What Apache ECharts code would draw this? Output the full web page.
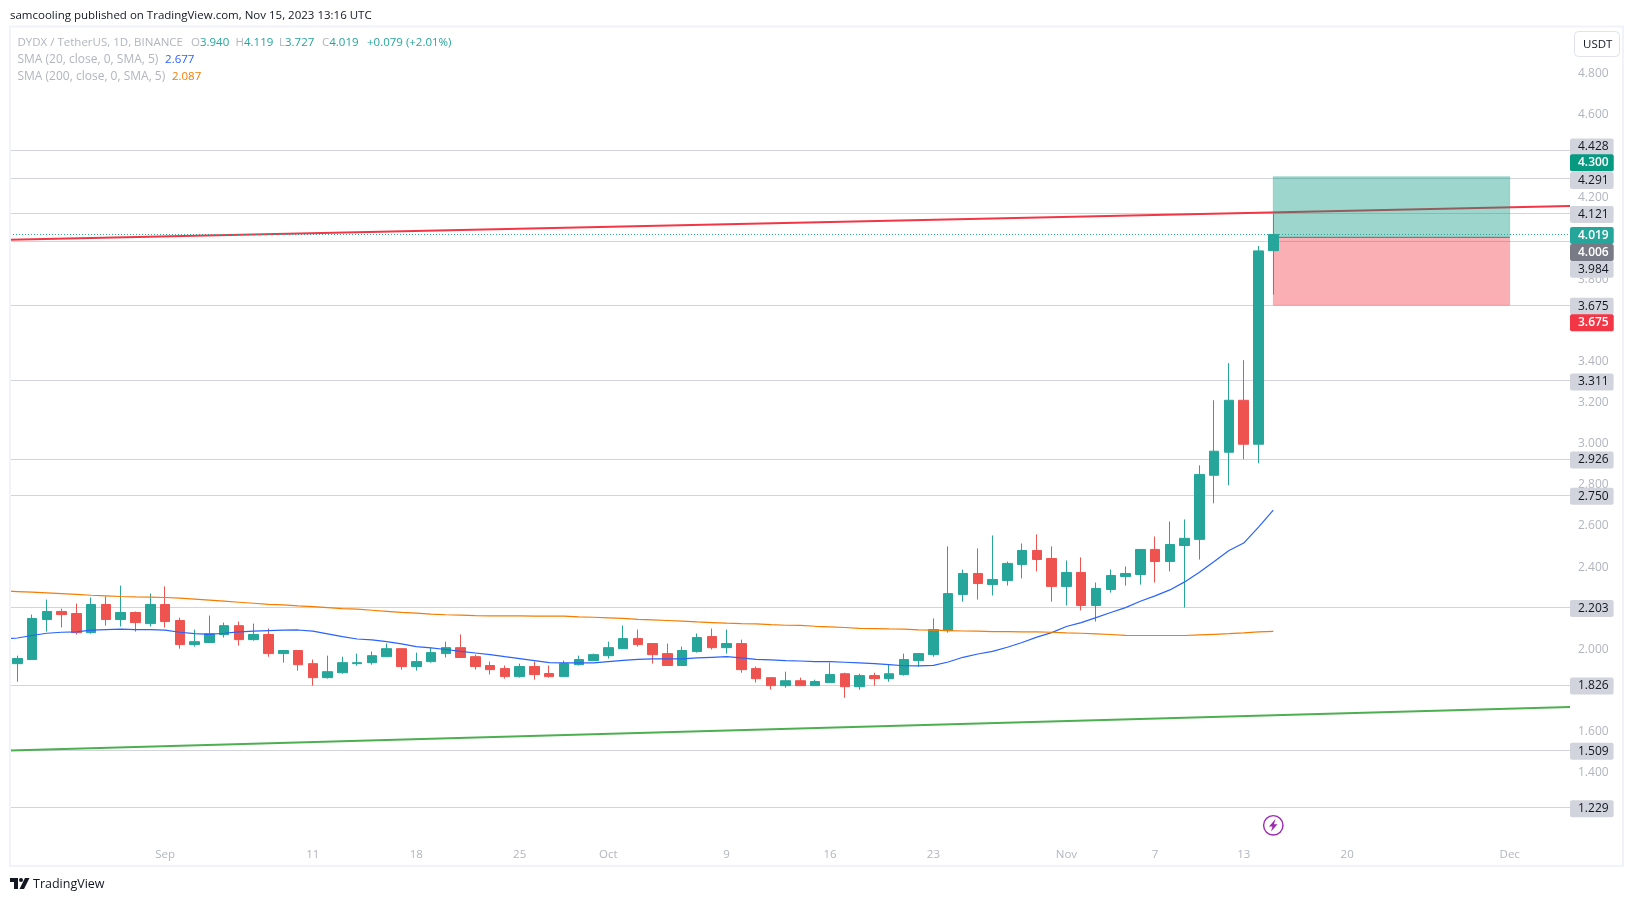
<!DOCTYPE html>
<html><head><meta charset="utf-8">
<style>html,body{margin:0;padding:0;background:#fff}#c{width:1634px;height:901px}</style>
<script src="https://cdn.jsdelivr.net/npm/echarts@6/dist/echarts.min.js"></script>
</head><body><div id="c"></div>
<script>
const opens=[1.930,1.950,2.145,2.184,2.174,2.081,2.218,2.145,2.179,2.125,2.218,2.140,2.023,2.033,2.072,2.115,2.047,2.072,1.979,1.994,1.930,1.862,1.886,1.930,1.935,1.964,2.003,1.916,1.940,1.979,2.008,1.964,1.921,1.906,1.867,1.916,1.882,1.867,1.925,1.945,1.969,2.003,2.052,2.028,1.979,1.921,1.989,2.062,2.008,2.028,1.906,1.862,1.823,1.847,1.823,1.838,1.881,1.818,1.872,1.857,1.877,1.945,1.974,2.091,2.267,2.369,2.315,2.335,2.413,2.481,2.442,2.306,2.374,2.213,2.291,2.354,2.364,2.486,2.427,2.505,2.535,2.847,2.959,3.212,2.998,3.940];
const closes=[1.955,2.150,2.184,2.169,2.081,2.218,2.145,2.179,2.130,2.218,2.135,2.023,2.037,2.076,2.115,2.047,2.072,1.979,1.994,1.925,1.862,1.891,1.935,1.935,1.969,2.003,1.916,1.940,1.984,2.008,1.960,1.916,1.901,1.867,1.916,1.877,1.867,1.930,1.950,1.974,2.008,2.052,2.023,1.974,1.921,1.994,2.057,2.008,2.028,1.901,1.857,1.823,1.847,1.823,1.843,1.877,1.818,1.872,1.857,1.881,1.950,1.979,2.096,2.271,2.369,2.320,2.340,2.418,2.481,2.437,2.306,2.374,2.213,2.296,2.359,2.369,2.486,2.427,2.510,2.540,2.851,2.964,3.212,2.998,3.939,4.019];
const lows=[1.842,1.950,2.086,2.106,2.072,2.076,2.115,2.111,2.086,2.111,2.106,2.003,2.013,2.033,2.057,2.018,2.042,1.964,1.935,1.896,1.823,1.857,1.881,1.920,1.925,1.964,1.901,1.896,1.935,1.960,1.960,1.901,1.877,1.857,1.862,1.852,1.862,1.867,1.921,1.945,1.955,2.003,2.013,1.930,1.921,1.921,1.984,1.999,1.979,1.886,1.838,1.804,1.813,1.823,1.823,1.838,1.764,1.803,1.823,1.842,1.872,1.916,1.964,2.081,2.232,2.242,2.262,2.310,2.345,2.379,2.232,2.213,2.189,2.135,2.276,2.310,2.315,2.325,2.379,2.203,2.437,2.710,2.798,2.925,2.905,3.727];
const highs=[1.969,2.169,2.242,2.198,2.223,2.252,2.257,2.310,2.184,2.271,2.306,2.154,2.096,2.164,2.130,2.135,2.125,2.101,1.994,1.994,1.950,1.969,1.964,1.979,1.989,2.028,2.003,1.984,2.008,2.037,2.072,1.974,1.940,1.921,1.930,1.940,1.921,1.945,1.969,1.979,2.037,2.116,2.096,2.028,2.028,2.013,2.077,2.101,2.096,2.047,1.916,1.862,1.891,1.862,1.852,1.935,1.886,1.881,1.886,1.925,1.979,1.979,2.150,2.501,2.388,2.491,2.554,2.427,2.515,2.559,2.501,2.432,2.447,2.325,2.388,2.403,2.486,2.549,2.622,2.632,2.895,3.212,3.393,3.407,3.963,4.119];
const sma20=[2.050,2.055,2.067,2.078,2.083,2.085,2.093,2.096,2.098,2.096,2.096,2.093,2.083,2.076,2.073,2.078,2.085,2.088,2.091,2.093,2.094,2.088,2.075,2.062,2.050,2.046,2.037,2.026,2.013,2.007,1.999,1.990,1.982,1.974,1.964,1.955,1.945,1.935,1.934,1.934,1.934,1.940,1.946,1.951,1.953,1.953,1.953,1.958,1.961,1.964,1.958,1.951,1.948,1.945,1.943,1.940,1.940,1.937,1.934,1.930,1.925,1.920,1.919,1.922,1.938,1.961,1.977,1.990,2.010,2.033,2.059,2.081,2.111,2.130,2.154,2.179,2.203,2.234,2.260,2.289,2.328,2.375,2.427,2.481,2.517,2.595,2.677];
const sma200=[2.284,2.281,2.278,2.275,2.271,2.267,2.263,2.260,2.257,2.255,2.254,2.252,2.249,2.244,2.239,2.234,2.229,2.224,2.219,2.216,2.211,2.208,2.203,2.198,2.195,2.190,2.185,2.180,2.176,2.171,2.168,2.166,2.164,2.163,2.163,2.163,2.161,2.161,2.161,2.158,2.156,2.153,2.150,2.146,2.143,2.140,2.137,2.133,2.130,2.127,2.125,2.124,2.120,2.117,2.116,2.112,2.109,2.106,2.102,2.101,2.099,2.098,2.094,2.093,2.091,2.089,2.088,2.086,2.086,2.085,2.085,2.083,2.080,2.078,2.075,2.072,2.068,2.067,2.067,2.067,2.067,2.070,2.073,2.076,2.080,2.085,2.087];
const dayTickIndex=[10,20,27,34,40,48,55,62,71,77,83,90,101];
const dayTickLabel=['Sep','11','18','25','Oct','9','16','23','Nov','7','13','20','Dec'];
const priceTicks=[1.2,1.4,1.6,1.8,2.0,2.2,2.4,2.6,2.8,3.0,3.2,3.4,3.6,3.8,4.0,4.2,4.4,4.6,4.8];
const levels=[4.428,4.291,4.121,3.984,3.675,3.311,2.926,2.750,2.203,1.826,1.509,1.229];
const redTrend=[3.993,4.157];
const greenTrend=[1.508,1.719];
const lastClose=4.019, entry=4.006, target=4.300, stop=3.675;
const ohlcLabels=['O','H','L','C'];
const ohlcValues=['3.940','4.119','3.727','4.019'];
const changeText='+0.079 (+2.01%)';

const xMin=-0.494, xMax=105.08, yMin=1.0796, yMax=5.0267;
const F='"Open Sans","Noto Sans",sans-serif';
const candleData=opens.map((o,i)=>[i,o,closes[i],lows[i],highs[i]]);
const lineData=a=>a.map((v,i)=>[i-1,v]);
const tagBase={show:true,position:'end',distance:0,fontFamily:F,fontSize:12,padding:[3,5,2,8],borderRadius:2,
  formatter:p=>Number(p.value).toFixed(3)};
const tagOffset={4.428:-3.5,3.984:27.5,4.291:2,4.121:1,3.675:1,3.311:2,2.926:1,2.750:1,2.203:1,1.826:1,1.509:1,1.229:1};
const pos={startIdx:85,endIdx:101};
const ohlcX=[191,235.5,279,322];
const ohlcGraphics=[];
ohlcLabels.forEach((l,i)=>{
  ohlcGraphics.push({type:'text',z:100,left:ohlcX[i],top:37,style:{text:'{g|'+l+'}{v|'+ohlcValues[i]+'}',
    rich:{g:{fill:'#b2b5be',font:'11.5px '+F},v:{fill:'#26a69a',font:'11.5px '+F}}}});
});

const option={
 animation:false,backgroundColor:'#fff',
 grid:{left:10,right:64,top:27.4,bottom:62.6,containLabel:false},
 xAxis:{type:'value',min:xMin,max:xMax,axisLine:{show:false},axisTick:{show:false},splitLine:{show:false},
  axisLabel:{customValues:dayTickIndex,margin:10,color:'#b2b5be',fontFamily:F,fontSize:11.5,
   formatter:v=>dayTickLabel[dayTickIndex.indexOf(v)]||''}},
 yAxis:{type:'value',position:'right',min:yMin,max:yMax,axisLine:{show:false},axisTick:{show:false},splitLine:{show:false},
  axisLabel:{customValues:priceTicks,margin:8,align:'left',padding:[6,0,0,0],color:'#b2b5be',fontFamily:F,fontSize:12,formatter:v=>v.toFixed(3)}},
 series:[
  {type:'line',data:[],z:1,silent:true,
   markLine:{silent:true,symbol:'none',z:1,animation:false,precision:3,
    lineStyle:{color:'#d1d4dc',width:1,type:'solid'},
    label:Object.assign({},tagBase,{backgroundColor:'#d1d4dc',color:'#131722'}),
    data:levels.map(v=>({yAxis:v,label:{offset:[0,tagOffset[v]||0]}}))}},
  {type:'line',name:'Red trend',z:2,silent:true,symbol:'none',lineStyle:{color:'#f23645',width:2},
   data:[[xMin,redTrend[0]],[xMax,redTrend[1]]]},
  {type:'line',name:'Green trend',z:2,silent:true,symbol:'none',lineStyle:{color:'#4caf50',width:2},
   data:[[xMin,greenTrend[0]],[xMax,greenTrend[1]]]},
  {type:'line',data:[],z:3,silent:true,
   markArea:{silent:true,z:3,animation:false,data:[
    [{coord:[pos.startIdx,target],itemStyle:{color:'rgba(8,153,129,0.4)',borderColor:'rgba(8,153,129,0.25)',borderWidth:1}},{coord:[pos.endIdx,entry]}],
    [{coord:[pos.startIdx,entry],itemStyle:{color:'rgba(242,54,69,0.4)',borderColor:'rgba(242,54,69,0.2)',borderWidth:1}},{coord:[pos.endIdx,stop]}]
   ]},
   markLine:{silent:true,symbol:'none',z:3,animation:false,precision:3,label:{show:false},
    lineStyle:{color:'#787b86',width:1,type:'solid'},
    data:[[{coord:[pos.startIdx,entry]},{coord:[pos.endIdx,entry]}]]}},
  {type:'candlestick',name:'DYDX / TetherUS',z:4,silent:true,barWidth:10,
   encode:{x:0,y:[1,2,3,4]},
   itemStyle:{color:'#26a69a',color0:'#ef5350',borderColor:'#26a69a',borderColor0:'#ef5350',borderWidth:1},
   data:candleData},
  {type:'line',name:'SMA 20',z:5,silent:true,symbol:'none',lineStyle:{color:'#2962ff',width:1.2},data:lineData(sma20)},
  {type:'line',name:'SMA 200',z:5,silent:true,symbol:'none',lineStyle:{color:'#f57c00',width:1.2},data:lineData(sma200)},
  {type:'line',data:[],z:6,silent:true,
   markLine:{silent:true,symbol:'none',z:6,animation:false,precision:3,
    data:[
     {yAxis:lastClose,lineStyle:{color:'#26a69a',width:1,type:[1,2]},
      label:Object.assign({},tagBase,{backgroundColor:'#26a69a',color:'#fff',fontWeight:600,offset:[0,1]})},
     {yAxis:target,lineStyle:{color:'rgba(0,0,0,0)',width:1},
      label:Object.assign({},tagBase,{backgroundColor:'#089981',color:'#fff',fontWeight:600,offset:[0,-14]})},
     {yAxis:entry,lineStyle:{color:'rgba(0,0,0,0)',width:1},
      label:Object.assign({},tagBase,{backgroundColor:'#787b86',color:'#fff',fontWeight:600,offset:[0,15.5]})},
     {yAxis:stop,lineStyle:{color:'rgba(0,0,0,0)',width:1},
      label:Object.assign({},tagBase,{backgroundColor:'#f23645',color:'#fff',fontWeight:600,offset:[0,17.5]})}
    ]}}
 ],
 graphic:[
  {type:'rect',z:100,silent:true,shape:{x:10,y:26.5,width:1613,height:839.5},style:{fill:'none',stroke:'#f0f3fa',lineWidth:2}},
  {type:'text',z:100,left:10,top:10,style:{text:'samcooling published on TradingView.com, Nov 15, 2023 13:16 UTC',fill:'#131722',font:'11.5px '+F}},
  {type:'text',z:100,left:17.5,top:37,style:{text:'DYDX / TetherUS, 1D, BINANCE',fill:'#b2b5be',font:'11.5px '+F}},
  ...ohlcGraphics,
  {type:'text',z:100,left:367,top:37,style:{text:changeText,fill:'#26a69a',font:'11.5px '+F}},
  {type:'text',z:100,left:17.5,top:54,style:{text:'{g|SMA (20, close, 0, SMA, 5)}  {b|2.677}',
    rich:{g:{fill:'#b2b5be',font:'12px '+F},b:{fill:'#2962ff',font:'11.5px '+F}}}},
  {type:'text',z:100,left:17.5,top:71,style:{text:'{g|SMA (200, close, 0, SMA, 5)}  {o|2.087}',
    rich:{g:{fill:'#b2b5be',font:'12px '+F},o:{fill:'#f57c00',font:'11.5px '+F}}}},
  {type:'rect',z:100,silent:true,shape:{x:1574.5,y:31.5,width:45,height:25,r:4},style:{fill:'#fff',stroke:'#e0e3eb',lineWidth:1}},
  {type:'text',z:101,left:1583,top:39,style:{text:'USDT',fill:'#131722',font:'11.5px '+F}},
  {type:'text',z:100,left:33,top:878,style:{text:'TradingView',fill:'#131722',font:'12.5px '+F}},
  {type:'polygon',z:100,shape:{points:[[10,878],[18,878],[18,889],[14,889],[14,882],[10,882]]},style:{fill:'#131722'}},
  {type:'circle',z:100,shape:{cx:21,cy:880,r:2},style:{fill:'#131722'}},
  {type:'polygon',z:100,shape:{points:[[25,878],[29.5,878],[24,889],[19.5,889]]},style:{fill:'#131722'}},
  {type:'circle',z:100,shape:{cx:1273.3,cy:825.3,r:9.7},style:{fill:'#fff',stroke:'#9c27b0',lineWidth:1.4}},
  {type:'polygon',z:101,shape:{points:[[1275.5,819],[1269,826.5],[1272.5,826.5],[1271,831.5],[1277.5,824.2],[1274,824.2]]},style:{fill:'#9c27b0'}}
 ]
};
echarts.init(document.getElementById('c'),null,{renderer:'canvas'}).setOption(option);
</script></body></html>
